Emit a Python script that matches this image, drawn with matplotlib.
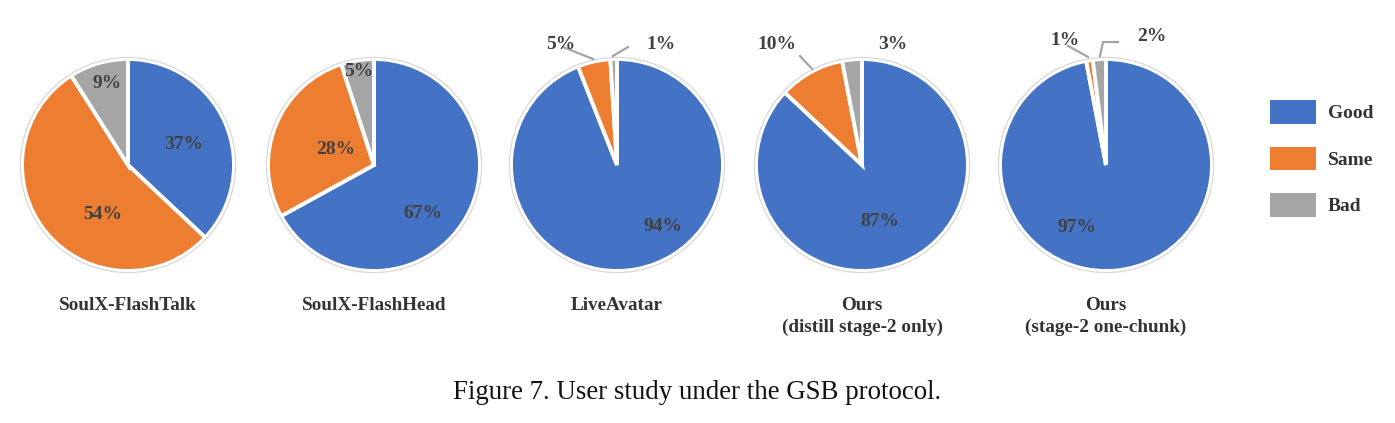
import numpy as np
import matplotlib
matplotlib.use("Agg")
import matplotlib.pyplot as plt
from matplotlib.patches import Circle, Patch

categories = ["Good", "Same", "Bad"]
titles = ["SoulX-FlashTalk", "SoulX-FlashHead", "LiveAvatar",
          "Ours\n(distill stage-2 only)", "Ours\n(stage-2 one-chunk)"]
good = [37, 67, 94, 87, 97]
same = [54, 28, 5, 10, 1]
bad = [9, 5, 1, 3, 2]

colors = ["#4472C4", "#ED7D31", "#A5A5A5"]
txt_col = "#404040"
serif = ["Liberation Serif", "DejaVu Serif"]

W, H = 1395, 423
fig = plt.figure(figsize=(W / 100, H / 100), dpi=100)

centers_x = [128, 374, 617, 862, 1106]
cy = 165
R = 106
lim = 1.25

# label placement per wedge (radius units): (label position, leader polyline or None)
label_style = [
    [((0.53, 0.19), None), ((-0.24, -0.47), None), ((-0.2, 0.77), None)],
    [((0.46, -0.46), None), ((-0.36, 0.15), None), ((-0.14, 0.88), None)],
    [((0.43, -0.58), None),
     ((-0.53, 1.14), [(-0.51, 1.113), (-0.226, 1.0)]),
     ((0.42, 1.14), [(0.104, 1.113), (-0.038, 1.028)])],
    [((0.17, -0.53), None),
     ((-0.8, 1.14), [(-0.585, 1.028), (-0.47, 0.906)]),
     ((0.29, 1.14), None)],
    [((-0.27, -0.59), None),
     ((-0.39, 1.17), [(-0.358, 1.123), (-0.17, 1.02)]),
     ((0.43, 1.21), [(0.113, 1.16), (-0.028, 1.16), (-0.057, 1.028)])],
]

for i in range(5):
    vals = [good[i], same[i], bad[i]]
    left = (centers_x[i] - lim * R) / W
    bottom = (H - cy - lim * R) / H
    ax = fig.add_axes([left, bottom, 2 * lim * R / W, 2 * lim * R / H])
    ax.set_xlim(-lim, lim)
    ax.set_ylim(-lim, lim)
    ax.set_aspect("equal")
    ax.axis("off")
    wedges, _ = ax.pie(vals, colors=colors, startangle=90, counterclock=False,
                       radius=1.0,
                       wedgeprops=dict(edgecolor="white", linewidth=2.8))
    ax.add_patch(Circle((0, 0), 1.015, fill=False, edgecolor="#D9D9D9", lw=0.9))
    for w, v, (pos, pts) in zip(wedges, vals, label_style[i]):
        ax.text(pos[0], pos[1], f"{v}%", ha="center", va="center",
                fontsize=14, fontweight="bold", color=txt_col, family=serif,
                clip_on=False)
        if pts is not None:
            ax.plot([p[0] for p in pts], [p[1] for p in pts], color="#A5A5A5",
                    lw=1.6, clip_on=False, solid_joinstyle="miter")
    fig.text(centers_x[i] / W, 1 - 297 / H, titles[i], ha="center", va="top",
             fontsize=13.8, fontweight="bold", color="#333333", family=serif,
             linespacing=1.35)

handles = [Patch(facecolor=c, edgecolor="none") for c in colors]
leg = fig.legend(handles, categories, loc="center left",
                 bbox_to_anchor=(1252 / W, 1 - 158.5 / H), frameon=False,
                 handlelength=2.4, handleheight=1.5, labelspacing=1.17,
                 handletextpad=0.6,
                 prop=dict(family=serif, weight="bold", size=14))
for t in leg.get_texts():
    t.set_color("#333333")

fig.text(0.5, 1 - 392 / H, "Figure 7. User study under the GSB protocol.",
         ha="center", va="center", fontsize=19.4, color="#111111", family=serif)

fig.savefig("out.png", dpi=100)
